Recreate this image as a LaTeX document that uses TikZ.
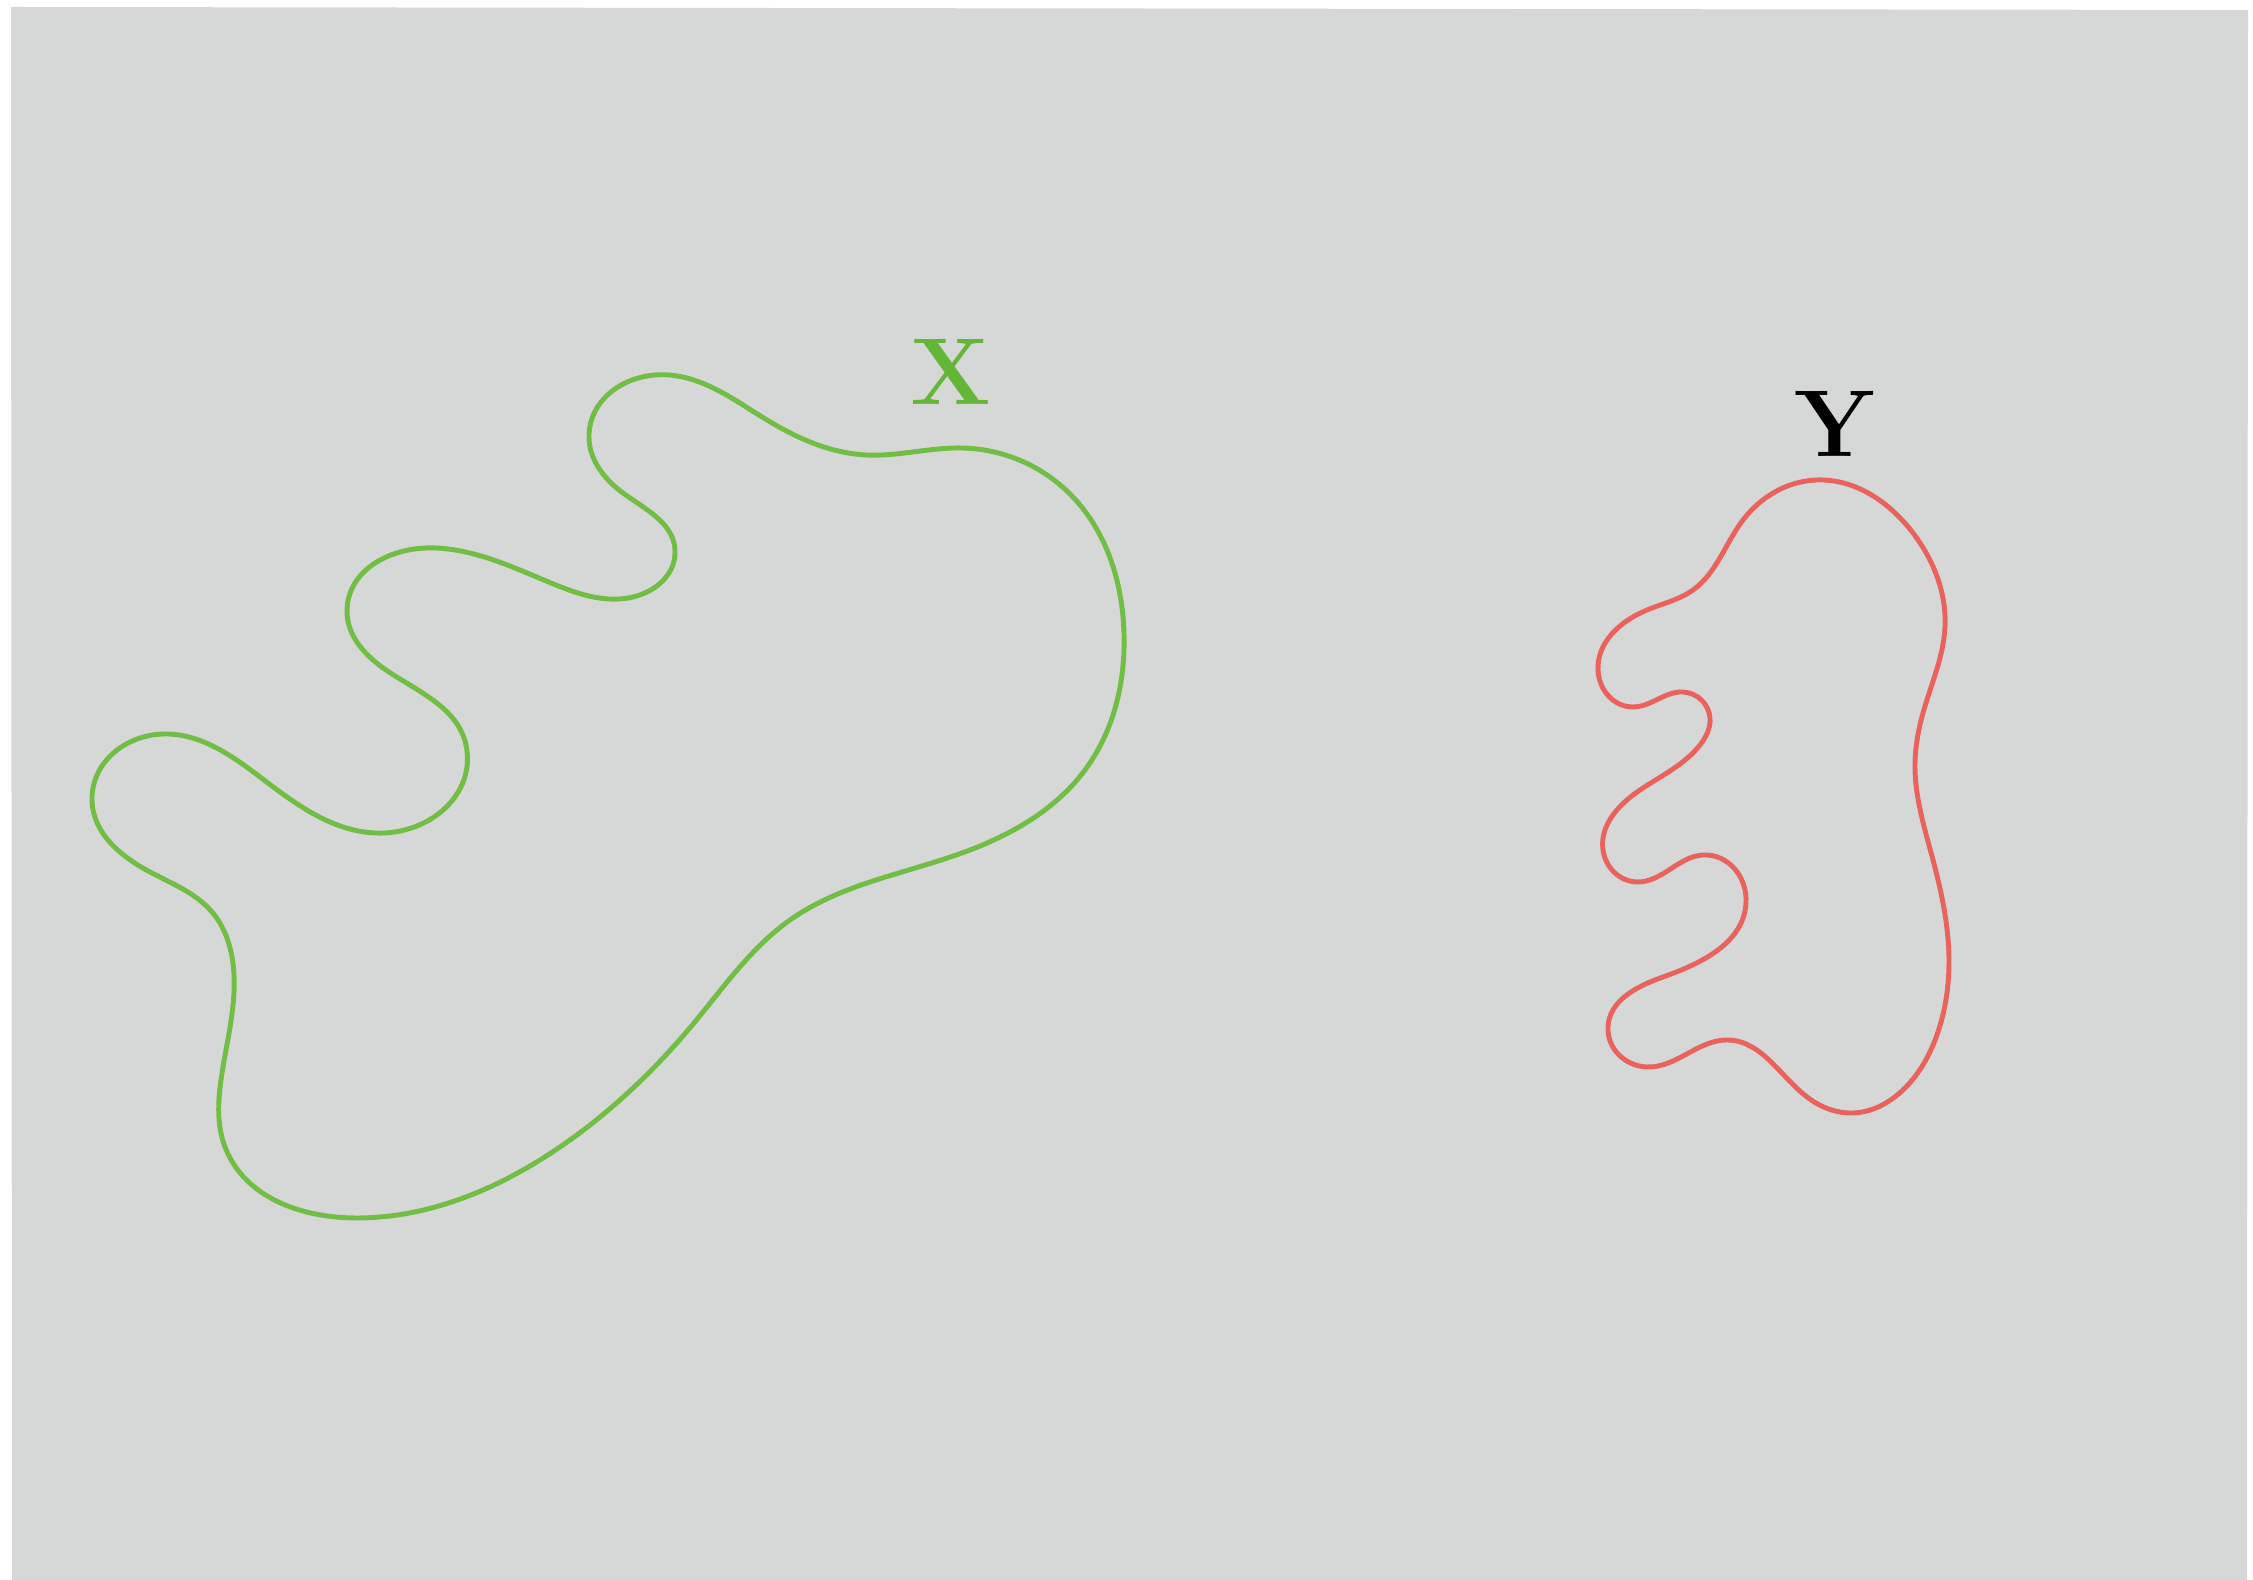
\documentclass[tikz,border=0pt]{standalone}
\usetikzlibrary{hobby}
\definecolor{bggray}{RGB}{214,216,215}
\definecolor{blobgreen}{RGB}{112,190,67}
\definecolor{labgreen}{RGB}{100,182,55}
\definecolor{blobred}{RGB}{234,98,92}
\tikzset{
  blobx/.style={draw=blobgreen, line width=1.4pt, use Hobby shortcut, closed=true},
  bloby/.style={draw=blobred, line width=1.4pt, use Hobby shortcut, closed=true},
  blablabel/.style={inner sep=0pt, anchor=center, font=\fontsize{27}{30}\selectfont\bfseries}
}
\begin{document}
\begin{tikzpicture}[x=0.01cm,y=-0.01cm]
\useasboundingbox (0,0) rectangle (2253,1580);
\fill[bggray] (11,7) -- (2248,10) -- (2247,1580) -- (12,1580) -- cycle;
% set X
\draw[blobx] (669,375) .. (767,420) .. (866,455) .. (962,448) .. (1069,493)
 .. (1124,633) .. (1085,770) .. (962,853) .. (790,920) .. (694,1023)
 .. (560,1147) .. (356,1218) .. (225,1147) .. (221,1080) .. (234,975)
 .. (212,912) .. (150,872) .. (92,800) .. (164,734) .. (264,780)
 .. (375,833) .. (466,745) .. (386,670) .. (347,610) .. (436,548)
 .. (551,583) .. (620,599) .. (675,550) .. (623,493) .. (589,435);
% set Y
\draw[bloby] (1817,480) .. (1913,533) .. (1945,627) .. (1923,713)
 .. (1915,765) .. (1933,860) .. (1949,960) .. (1938,1032) .. (1905,1088)
 .. (1853,1113) .. (1807,1097) .. (1727,1040) .. (1647,1067) .. (1608,1027)
 .. (1663,977) .. (1746,903) .. (1703,855) .. (1637,882) .. (1603,850)
 .. (1640,790) .. (1700,745) .. (1710,718) .. (1683,692) .. (1633,707)
 .. (1598,670) .. (1647,610) .. (1693,590) .. (1743,520);
\node[blablabel, text=labgreen] (labx) at (951,372) {X};
\node[blablabel, text=black] (laby) at (1835,424) {Y};
\end{tikzpicture}
\end{document}
